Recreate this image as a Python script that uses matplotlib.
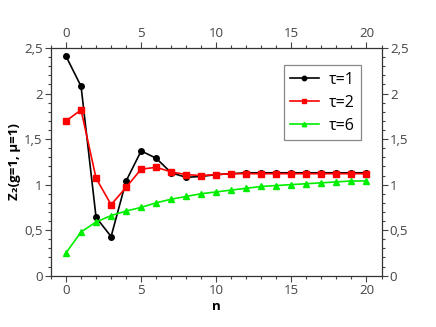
import matplotlib
matplotlib.use("Agg")
import matplotlib.pyplot as plt
from matplotlib.ticker import MultipleLocator, FuncFormatter

plt.rcParams["font.family"] = ["Open Sans", "DejaVu Sans"]

# ─── data ──────────────────────────────────────────
n = list(range(21))
tau1 = [2.41, 2.08, 0.64, 0.43, 1.04, 1.37, 1.29, 1.13, 1.08, 1.09, 1.11,
        1.12, 1.13, 1.13, 1.13, 1.13, 1.13, 1.13, 1.13, 1.13, 1.13]
tau2 = [1.70, 1.82, 1.07, 0.78, 0.97, 1.17, 1.19, 1.14, 1.11, 1.10, 1.11,
        1.12, 1.12, 1.12, 1.12, 1.12, 1.12, 1.12, 1.12, 1.12, 1.12]
tau6 = [0.25, 0.48, 0.59, 0.66, 0.71, 0.75, 0.80, 0.84, 0.87, 0.90, 0.92,
        0.94, 0.96, 0.98, 0.99, 1.00, 1.01, 1.02, 1.03, 1.04, 1.04]
labels = ["τ=1", "τ=2", "τ=6"]

fig = plt.figure(figsize=(4.36, 3.27), dpi=100)
ax = fig.add_axes([0.117, 0.157, 0.758, 0.696])

ax.plot(n, tau1, color="black", marker="o", ms=4, lw=1.2, label=labels[0])
ax.plot(n, tau2, color="red", marker="s", ms=4, lw=1.2, label=labels[1])
ax.plot(n, tau6, color="#00ee00", marker="^", ms=4, lw=1.2, label=labels[2])

ax.set_xlim(-1, 21)
ax.set_ylim(0, 2.5)
ax.xaxis.set_major_locator(MultipleLocator(5))
ax.xaxis.set_minor_locator(MultipleLocator(1))
ax.yaxis.set_major_locator(MultipleLocator(0.5))
ax.yaxis.set_minor_locator(MultipleLocator(0.1))
fmt = FuncFormatter(lambda v, p: f"{v:g}".replace(".", ","))
ax.yaxis.set_major_formatter(fmt)

ax.tick_params(which="both", direction="out", top=True, right=True,
               labeltop=True, labelright=True, colors="#444444",
               labelsize=9.5, pad=2)
ax.tick_params(which="major", length=4, width=0.8)
ax.tick_params(which="minor", length=2.5, width=0.8)
for s in ax.spines.values():
    s.set_color("#333333")
    s.set_linewidth(0.9)

ax.set_xlabel("n", fontweight="bold", fontsize=9.5, labelpad=2)
ax.set_ylabel("Z₂(g=1, μ=1)", fontweight="bold", fontsize=9.5, labelpad=2)

leg = ax.legend(loc="upper right", bbox_to_anchor=(0.937, 0.925),
                borderaxespad=0, fontsize=11.5, fancybox=False, framealpha=1,
                edgecolor="#888888", handlelength=1.8, handletextpad=0.6,
                borderpad=0.4, labelspacing=0.45, markerscale=0.8)
leg.get_frame().set_linewidth(0.9)

fig.savefig("out.png", dpi=100)
